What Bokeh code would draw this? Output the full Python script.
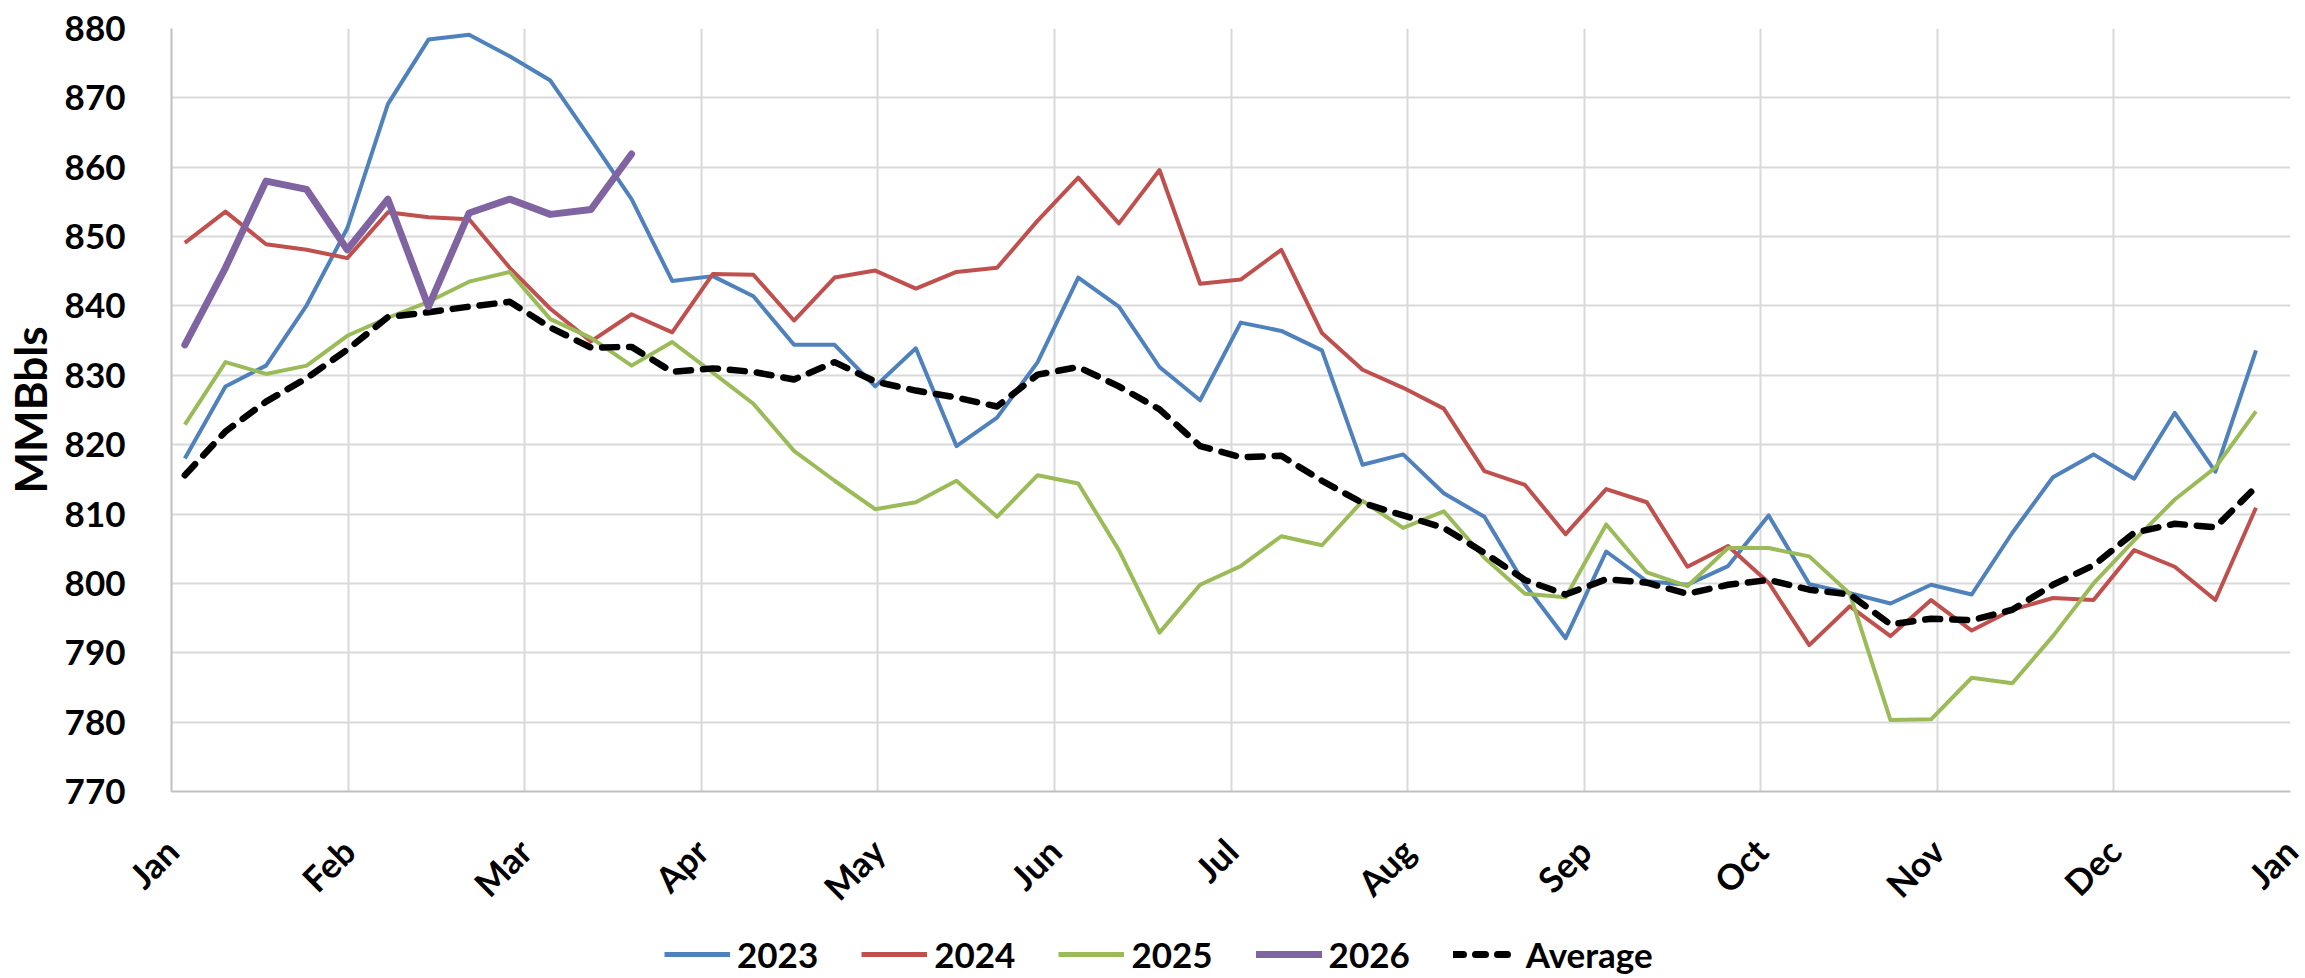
import math
from bokeh.plotting import figure
from bokeh.layouts import column
from bokeh.models import FixedTicker, Legend, LegendItem, Range1d
from bokeh.embed import file_html
from bokeh.resources import INLINE

# ---------------- data ----------------
months = ["Jan", "Feb", "Mar", "Apr", "May", "Jun", "Jul", "Aug", "Sep", "Oct", "Nov", "Dec", "Jan"]
weeks = list(range(1, 53))

y2023 = [818.0, 828.4, 831.4, 840.1, 851.2, 869.1, 878.4, 879.1, 876.0, 872.5,
         864.0, 855.4, 843.6, 844.3, 841.4, 834.4, 834.4, 828.4, 833.9, 819.8,
         823.9, 831.9, 844.1, 839.9, 831.2, 826.4, 837.6, 836.4, 833.6, 817.1,
         818.6, 813.0, 809.6, 799.8, 792.1, 804.6, 800.3, 799.8, 802.5, 809.8,
         799.9, 798.6, 797.1, 799.8, 798.4, 807.3, 815.3, 818.6, 815.1, 824.6,
         816.1, 833.6]
y2024 = [849.1, 853.6, 848.9, 848.1, 846.9, 853.5, 852.8, 852.5, 845.5, 839.6,
         834.9, 838.8, 836.2, 844.6, 844.5, 837.9, 844.1, 845.1, 842.5, 844.9,
         845.5, 852.3, 858.5, 851.9, 859.6, 843.2, 843.8, 848.1, 836.1, 830.8,
         828.2, 825.2, 816.2, 814.2, 807.1, 813.6, 811.7, 802.4, 805.4, 800.1,
         791.1, 796.7, 792.4, 797.6, 793.2, 796.2, 797.9, 797.6, 804.8, 802.4,
         797.6, 810.9]
y2025 = [822.9, 831.9, 830.2, 831.4, 835.7, 838.3, 840.6, 843.5, 844.9, 838.1,
         835.4, 831.4, 834.8, 830.4, 825.9, 819.1, 814.8, 810.7, 811.7, 814.8,
         809.6, 815.6, 814.4, 804.8, 792.9, 799.8, 802.5, 806.8, 805.5, 811.9,
         808.0, 810.4, 803.7, 798.5, 798.0, 808.5, 801.6, 799.6, 805.1, 805.1,
         803.9, 798.5, 780.3, 780.4, 786.4, 785.6, 792.4, 800.0, 806.2, 812.1,
         816.7, 824.8]
y2026 = [834.4, 845.5, 858.0, 856.8, 848.1, 855.4, 839.9, 853.4, 855.4, 853.2,
         853.9, 861.9]
y_avg = [815.6, 821.9, 826.2, 829.6, 833.7, 838.4, 839.1, 839.9, 840.6, 836.9,
         834.0, 834.1, 830.5, 831.0, 830.5, 829.4, 831.9, 829.1, 827.8, 826.8,
         825.5, 830.1, 831.2, 828.4, 825.1, 819.8, 818.2, 818.4, 814.8, 811.6,
         809.8, 808.0, 804.4, 800.5, 798.4, 800.6, 800.1, 798.5, 799.8, 800.5,
         799.1, 798.4, 794.1, 794.9, 794.7, 796.2, 799.8, 802.6, 807.3, 808.6,
         808.1, 813.9]

y_ticks = list(range(770, 881, 10))

series_names = ["2023", "2024", "2025", "2026", "Average"]
series_colors = ["#4F81BD", "#C0504D", "#9BBB59", "#8064A2", "black"]

# ---------------- layout / style ----------------
FONT = "Lato"
DAYS_IN_YEAR = 365.25
x = [(w - 1) * 7 + 2.3 for w in weeks]
month_ticks = [k * DAYS_IN_YEAR / 12 for k in range(13)]

W = 2305
H_MAIN = 925
H_LEG = 53

p = figure(width=W, height=H_MAIN, output_backend="svg", toolbar_location=None,
           x_range=Range1d(0, DAYS_IN_YEAR), y_range=Range1d(770, 880),
           min_border_left=169, min_border_right=15, min_border_top=28,
           min_border_bottom=131)
p.outline_line_color = None
p.background_fill_color = "white"
p.border_fill_color = "white"

GRID = "#D9D9D9"
p.xgrid.grid_line_color = GRID
p.ygrid.grid_line_color = GRID
p.xgrid.grid_line_width = 2
p.ygrid.grid_line_width = 2

# x axis
p.xaxis.ticker = FixedTicker(ticks=month_ticks)
p.xaxis.major_label_overrides = {t: m for t, m in zip(month_ticks, months)}
p.xaxis.major_label_orientation = math.pi / 4
p.xaxis.major_label_text_font = FONT
p.xaxis.major_label_text_font_style = "bold"
p.xaxis.major_label_text_font_size = "35px"
p.xaxis.major_label_text_color = "black"
p.xaxis.major_label_standoff = 47
p.xaxis.major_tick_line_color = None
p.xaxis.minor_tick_line_color = None
p.xaxis.axis_line_color = "#BFBFBF"
p.xaxis.axis_line_width = 2

# y axis
p.yaxis.ticker = FixedTicker(ticks=y_ticks)
p.yaxis.major_label_text_font = FONT
p.yaxis.major_label_text_font_style = "bold"
p.yaxis.major_label_text_font_size = "35px"
p.yaxis.major_label_text_color = "black"
p.yaxis.major_label_standoff = 40
p.yaxis.major_tick_line_color = None
p.yaxis.minor_tick_line_color = None
p.yaxis.axis_line_color = "#BFBFBF"
p.yaxis.axis_line_width = 2
p.yaxis.axis_label = "MMBbls"
p.yaxis.axis_label_text_font = FONT
p.yaxis.axis_label_text_font_style = "bold"
p.yaxis.axis_label_text_font_size = "44px"
p.yaxis.axis_label_text_color = "black"
p.yaxis.axis_label_standoff = 6

# series
THIN = 4
p.line(x, y2023, line_color=series_colors[0], line_width=THIN, line_join="round")
p.line(x, y2024, line_color=series_colors[1], line_width=THIN, line_join="round")
p.line(x, y2025, line_color=series_colors[2], line_width=THIN, line_join="round")
p.line(x, y_avg, line_color=series_colors[4], line_width=6.5, line_dash="15 12",
       line_cap="round", line_join="round")
p.line(x[:len(y2026)], y2026, line_color=series_colors[3], line_width=7,
       line_join="round", line_cap="round")

# ---------------- legend strip (below the chart) ----------------
lg = figure(width=W, height=H_LEG, output_backend="svg", toolbar_location=None,
            x_range=Range1d(0, 1), y_range=Range1d(0, 1),
            min_border_left=0, min_border_right=0, min_border_top=0,
            min_border_bottom=0)
lg.axis.visible = False
lg.xgrid.visible = False
lg.ygrid.visible = False
lg.outline_line_color = None
lg.background_fill_color = "white"
lg.border_fill_color = "white"

styles = [dict(line_width=5), dict(line_width=5), dict(line_width=5),
          dict(line_width=7, line_cap="round"),
          dict(line_width=7, line_dash="10 12", line_cap="round")]
items = []
for name, col, st in zip(series_names, series_colors, styles):
    # proxy renderers lie outside the strip's ranges; only their legend glyph shows
    r = lg.line([2, 3], [2, 2], line_color=col, **st)
    items.append(LegendItem(label=name, renderers=[r]))

legend = Legend(items=items, location=(493, 3), orientation="horizontal",
                glyph_width=66, glyph_height=36, label_standoff=7, spacing=43,
                padding=0, margin=0, border_line_color=None,
                background_fill_alpha=0, label_text_font=FONT,
                label_text_font_style="bold", label_text_font_size="35px",
                label_text_color="black")
lg.add_layout(legend)

layout = column(p, lg, spacing=0)
open("out.html", "w").write(file_html(layout, INLINE))
